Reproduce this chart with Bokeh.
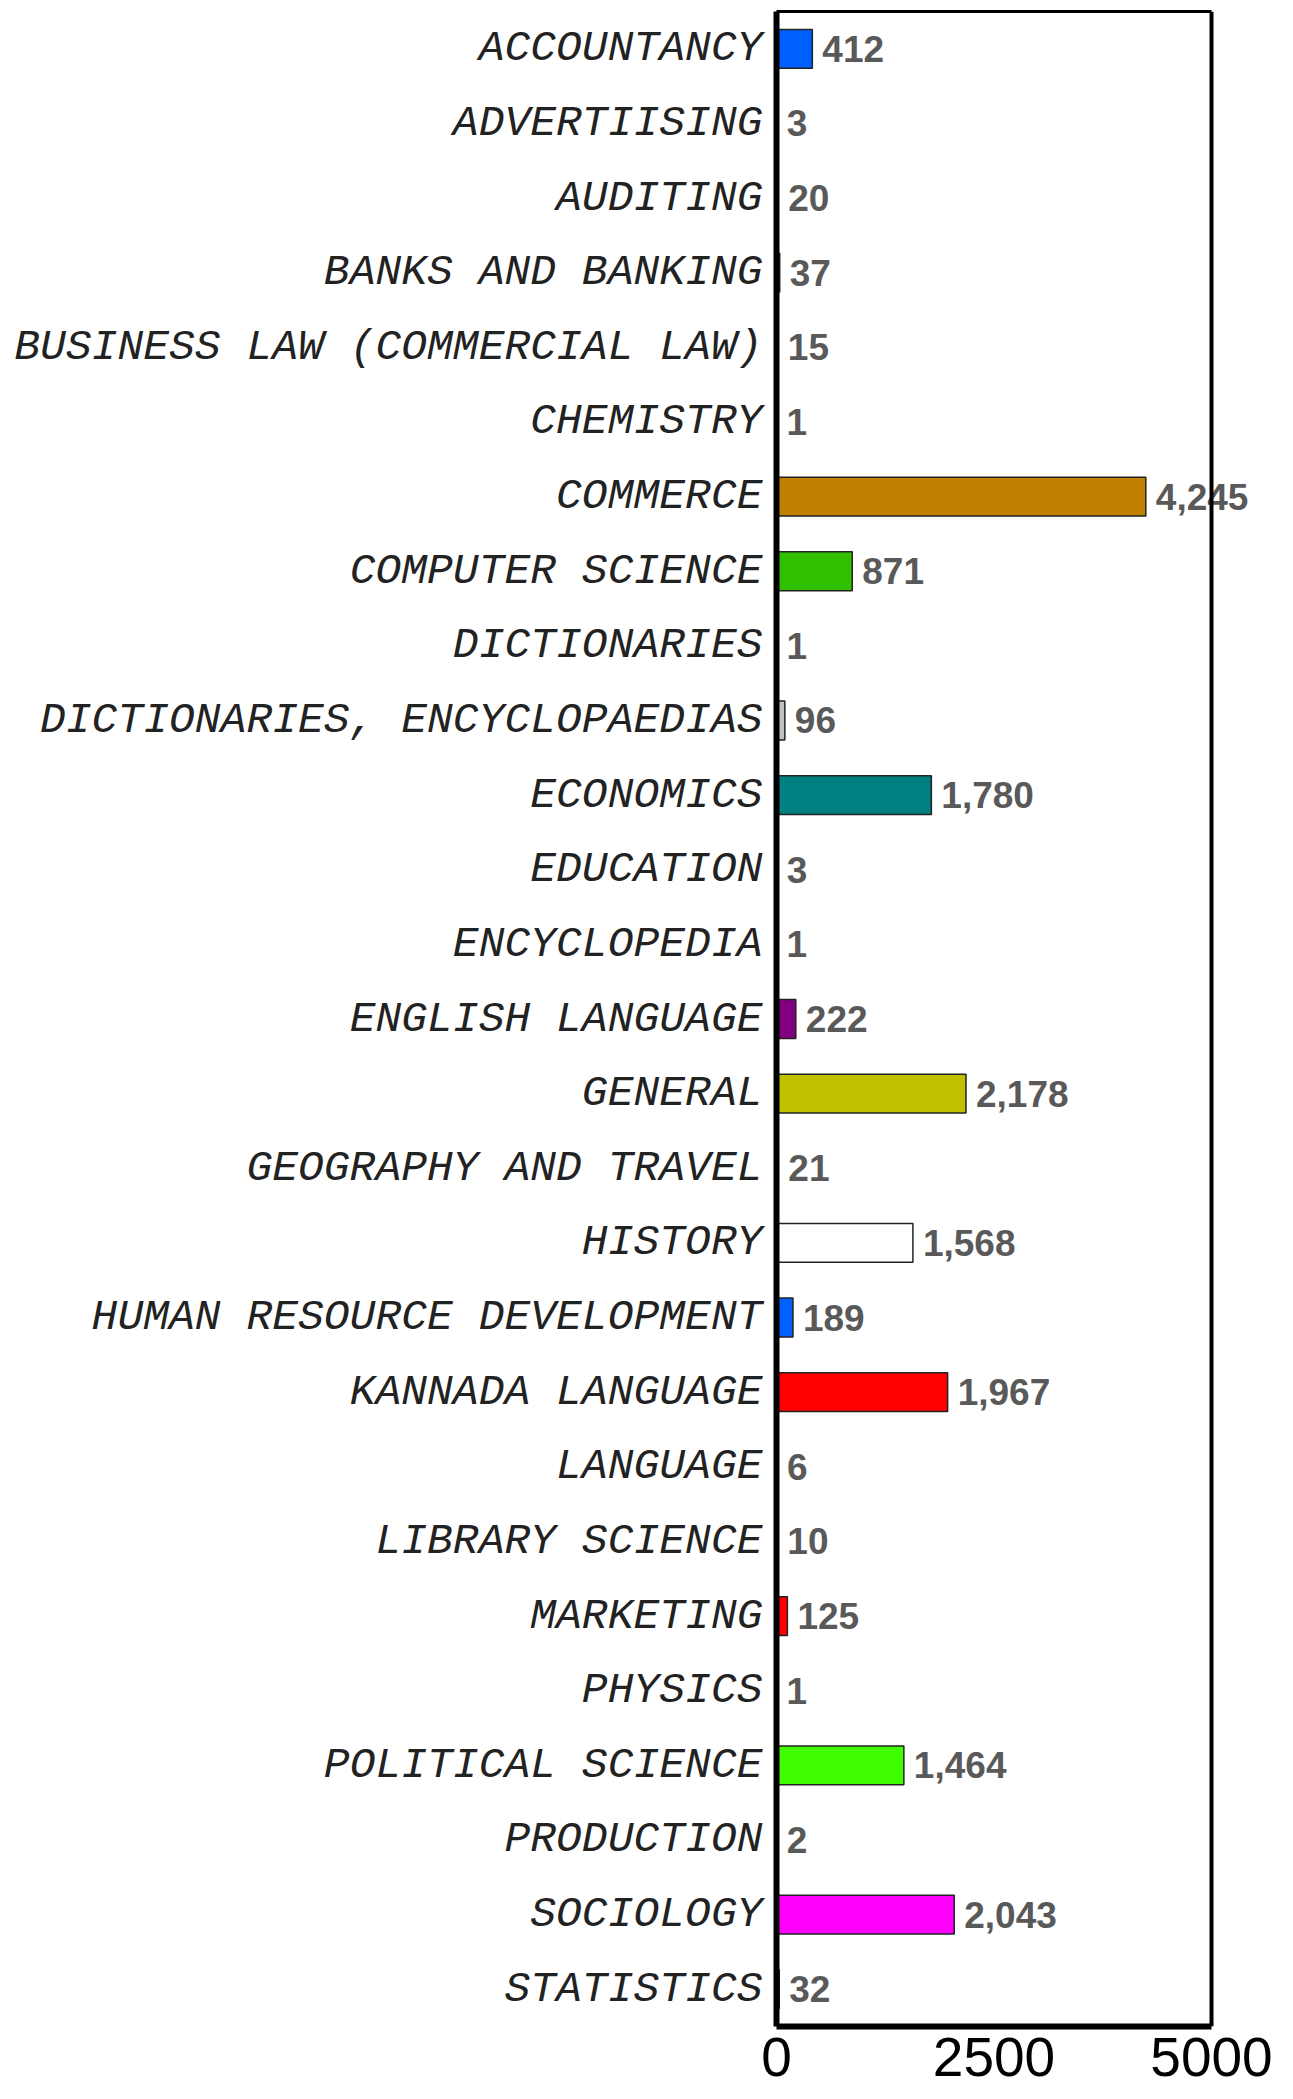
from bokeh.plotting import figure
from bokeh.models import ColumnDataSource, FixedTicker, Range1d, Span, LinearAxis
from bokeh.core.properties import value
from bokeh.embed import file_html
from bokeh.resources import INLINE

categories = [
    "ACCOUNTANCY", "ADVERTIISING", "AUDITING", "BANKS AND BANKING",
    "BUSINESS LAW (COMMERCIAL LAW)", "CHEMISTRY", "COMMERCE", "COMPUTER SCIENCE",
    "DICTIONARIES", "DICTIONARIES, ENCYCLOPAEDIAS", "ECONOMICS", "EDUCATION",
    "ENCYCLOPEDIA", "ENGLISH LANGUAGE", "GENERAL", "GEOGRAPHY AND TRAVEL",
    "HISTORY", "HUMAN RESOURCE DEVELOPMENT", "KANNADA LANGUAGE", "LANGUAGE",
    "LIBRARY SCIENCE", "MARKETING", "PHYSICS", "POLITICAL SCIENCE",
    "PRODUCTION", "SOCIOLOGY", "STATISTICS",
]
counts = [412, 3, 20, 37, 15, 1, 4245, 871, 1, 96, 1780, 3, 1, 222, 2178, 21,
          1568, 189, 1967, 6, 10, 125, 1, 1464, 2, 2043, 32]
bar_colors = [
    "#0060FF", "#808000", "#000080", "#FF8000", "#800000", "#00FFFF",
    "#C08000", "#30C000", "#808080", "#C0C0C0", "#008080", "#0000FF",
    "#FFFF00", "#800080", "#C0C000", "#008000", "#FFFFFF", "#0060FF",
    "#FF0000", "#FF8080", "#8080FF", "#FF0000", "#00C0C0", "#40FF00",
    "#C000C0", "#FF00FF", "#404040",
]
x_ticks = [0, 2500, 5000]

labels = [f"{v:,}" for v in counts]
src = ColumnDataSource(dict(cat=categories, val=counts, color=bar_colors, lab=labels))

# layout: the drawing area runs on past the 0-5000 box so value labels are not cut
W, H = 1290, 2099
BORDER_L = 776
BOX_W = 435                      # pixels covered by 0..5000
FRAME_W = W - BORDER_L
x_end = x_ticks[-1] * FRAME_W / BOX_W

p = figure(
    y_range=list(reversed(categories)),
    x_range=Range1d(0, x_end),
    width=W, height=H,
    min_border_left=BORDER_L, min_border_right=0,
    min_border_top=11, min_border_bottom=73,
    output_backend="svg", toolbar_location=None,
)
p.hbar(y="cat", right="val", left=0, height=0.52, source=src,
       fill_color="color", line_color="#222222", line_width=1.5)
p.text(x="val", y="cat", text="lab", source=src, x_offset=10,
       text_font=value("Liberation Sans"), text_font_style="bold",
       text_font_size="37px", text_color="#595959",
       text_align="left", text_baseline="middle")

# right edge of the box
p.add_layout(Span(location=x_ticks[-1], dimension="height",
                  line_color="black", line_width=4))

p.xgrid.visible = False
p.ygrid.visible = False
p.outline_line_color = None
p.background_fill_color = "white"
p.border_fill_color = "white"

p.xaxis.ticker = FixedTicker(ticks=x_ticks)
p.xaxis.bounds = (x_ticks[0], x_ticks[-1])
p.xaxis.axis_line_width = 6
p.xaxis.axis_line_color = "black"
p.xaxis.major_tick_line_color = None
p.xaxis.minor_tick_line_color = None
p.xaxis.major_tick_out = 0
p.xaxis.major_tick_in = 0
p.xaxis.major_label_standoff = 11
p.xaxis.major_label_text_font = "Liberation Sans"
p.xaxis.major_label_text_font_size = "55px"
p.xaxis.major_label_text_color = "black"

# top edge of the box
top = LinearAxis(ticker=FixedTicker(ticks=[]), bounds=(x_ticks[0], x_ticks[-1]),
                 axis_line_width=3, axis_line_color="black",
                 major_tick_line_color=None, minor_tick_line_color=None,
                 major_tick_out=0, major_tick_in=0, minor_tick_out=0,
                 major_label_standoff=0, major_label_text_font_size="0px")
p.add_layout(top, "above")

p.yaxis.axis_line_width = 6
p.yaxis.axis_line_color = "black"
p.yaxis.major_tick_line_color = None
p.yaxis.major_tick_out = 0
p.yaxis.major_tick_in = 0
p.yaxis.major_label_standoff = 14
p.yaxis.major_label_text_font = "Liberation Mono"
p.yaxis.major_label_text_font_style = "italic"
p.yaxis.major_label_text_font_size = "43px"
p.yaxis.major_label_text_color = "#222222"

open("out.html", "w").write(file_html(p, INLINE))
